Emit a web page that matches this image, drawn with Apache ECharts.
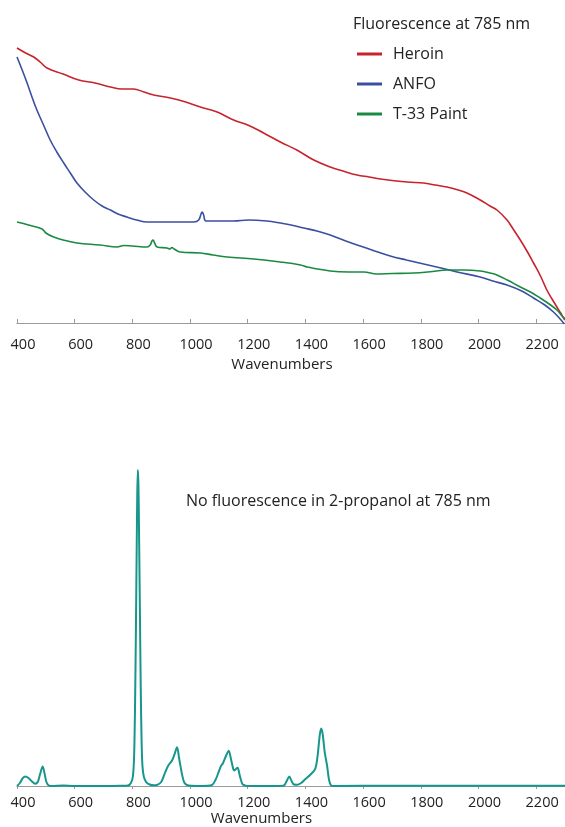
<!DOCTYPE html>
<html>
<head>
<meta charset="utf-8">
<title>Fluorescence at 785 nm</title>
<script src="https://cdn.jsdelivr.net/npm/echarts@6/dist/echarts.min.js"></script>
<style>
  html, body { margin: 0; padding: 0; background: #fff; }
  #main { width: 565px; height: 827px; }
</style>
</head>
<body>
<div id="main"></div>
<script>
// x axis ticks (wavenumbers)
var tickValues = [400, 600, 800, 1000, 1200, 1400, 1600, 1800, 2000, 2200];

// top panel: fluorescence backgrounds, [wavenumber, intensity]
var heroin = [
  [400, 275], [430, 270], [458, 266], [480, 261], [504, 255], [560, 249], [614, 243], [670, 240],
  [724, 236], [764, 234], [804, 234], [840, 231], [874, 228], [932, 225], [985, 221], [1036, 216],
  [1094, 211], [1151, 203], [1200, 198], [1255, 190], [1313, 181], [1370, 173], [1429, 163],
  [1486, 156], [1530, 152], [1579, 148], [1620, 146], [1660, 144], [1752, 141], [1810, 140],
  [1850, 138], [1891, 136], [1930, 133], [1960, 130], [2006, 123], [2040, 117], [2064, 113],
  [2099, 103], [2120, 94], [2145, 83], [2170, 71], [2191, 60], [2215, 47], [2237, 33],
  [2255, 24], [2272, 16], [2285, 10], [2295, 5], [2300, 3]
];
var anfo = [
  [400, 266], [418, 253], [435, 240], [452, 226], [469, 213], [492, 198], [515, 183], [538, 171],
  [562, 160], [585, 150], [608, 140], [636, 131], [666, 123], [695, 117], [724, 113], [750, 109],
  [781, 106], [815, 103], [851, 101], [920, 101], [980, 101], [1013, 101], [1030, 103],
  [1038, 109], [1042, 111], [1047, 108], [1055, 102], [1100, 102], [1151, 102], [1203, 103],
  [1266, 102], [1313, 100], [1350, 98], [1394, 95], [1440, 92], [1486, 88], [1540, 82],
  [1590, 77], [1640, 72], [1694, 67], [1750, 63], [1810, 59], [1870, 55], [1926, 51],
  [2006, 46], [2050, 42], [2099, 38], [2150, 32], [2191, 25], [2230, 18], [2260, 11],
  [2280, 5], [2298, -1]
];
var paint = [
  [400, 101], [440, 98], [487, 94], [500, 90], [527, 86], [560, 83], [608, 80], [689, 78],
  [747, 76], [770, 77.5], [800, 77], [851, 76], [862, 78], [868, 82], [872, 83], [877, 80],
  [886, 76], [920, 75], [930, 74], [937, 75.5], [945, 74], [966, 71], [1036, 70], [1080, 68],
  [1128, 66], [1221, 64], [1313, 61], [1383, 58], [1406, 56], [1486, 52], [1550, 51],
  [1602, 51], [1648, 49], [1700, 49.5], [1775, 50], [1840, 51.5], [1891, 53], [1950, 53],
  [2006, 52], [2040, 50], [2064, 48], [2100, 43], [2145, 36], [2180, 31], [2214, 25],
  [2245, 19], [2272, 13], [2290, 7], [2300, 4]
];

// bottom panel: 2-propanol raman spectrum
var propanol = [
  [400, 0], [410, 3], [420, 8], [429, 9.7], [440, 8], [452, 4.5], [463, 2.3], [472, 4],
  [480, 12], [489, 19.7], [496, 12], [502, 4], [510, 0.5], [520, 0], [560, 0.4], [600, 0],
  [700, 0], [760, 0.2], [785, 0.5], [795, 3], [802, 10], [806, 30], [809, 75], [812, 150],
  [815, 240], [817, 295], [819, 319], [821, 305], [823, 260], [826, 180], [829, 100],
  [832, 45], [835, 20], [840, 9], [848, 4], [860, 1.5], [875, 0.7], [885, 1], [900, 4],
  [914, 14], [925, 21], [938, 26], [946, 32], [955, 39], [962, 28], [972, 12], [978, 5],
  [984, 2], [995, 0.5], [1040, 0], [1076, 1], [1088, 6], [1099, 14], [1107, 20], [1114, 23],
  [1124, 30], [1134, 35.7], [1142, 27], [1150, 17], [1154, 15.7], [1160, 17.5], [1165, 18.3],
  [1172, 11], [1180, 3], [1186, 1], [1200, 0], [1300, 0], [1320, 0.3], [1327, 0.8],
  [1335, 5], [1344, 9.7], [1352, 5], [1360, 1.5], [1371, 1.3], [1385, 3], [1400, 7],
  [1417, 11.3], [1434, 17.3], [1442, 30], [1450, 52], [1455, 58], [1460, 52], [1467, 34],
  [1475, 20.7], [1482, 6], [1489, 0.5], [1500, 0], [1700, 0.3], [2000, 0.2], [2300, 0.3]
];

var font = 'Open Sans';
var myChart = echarts.init(document.getElementById('main'));

function xAxisOf(gridIndex, inside, margin, nameGap, namePad) {
  return {
    type: 'value',
    gridIndex: gridIndex,
    min: 400,
    max: 2300,
    name: 'Wavenumbers',
    nameLocation: 'middle',
    nameGap: nameGap,
    nameTextStyle: { fontFamily: font, fontSize: 15, color: '#222', padding: [0, namePad, 0, 0] },
    axisLine: { show: true, lineStyle: { color: '#9a9a9a', width: 1.2 } },
    axisTick: { show: true, inside: inside, length: inside ? 4 : 3, customValues: tickValues,
      lineStyle: { color: '#9a9a9a' } },
    axisLabel: { customValues: tickValues, margin: margin, fontFamily: font, fontSize: 14.5,
      color: '#222', padding: [0, 0, 0, 12],
      formatter: function (v) { return String(v); } },
    splitLine: { show: false }
  };
}

var option = {
  animation: false,
  title: [
    {
      text: 'Fluorescence at 785 nm',
      left: 353, top: 14, padding: 0,
      textStyle: { fontFamily: font, fontSize: 16, fontWeight: 'normal', color: '#222', lineHeight: 20 }
    },
    {
      text: 'No fluorescence in 2-propanol at 785 nm',
      left: 186, top: 491, padding: 0,
      textStyle: { fontFamily: font, fontSize: 16, fontWeight: 'normal', color: '#222', lineHeight: 20 }
    }
  ],
  legend: {
    orient: 'vertical',
    left: 357, top: 44, padding: 0,
    itemWidth: 25, itemHeight: 3, itemGap: 10,
    icon: 'rect',
    data: ['Heroin', 'ANFO', 'T-33 Paint'],
    textStyle: { fontFamily: font, fontSize: 16, color: '#222', lineHeight: 20, padding: [0, 0, 0, 6] }
  },
  grid: [
    { left: 17, right: 0, top: 23, height: 301 },
    { left: 17, right: 0, top: 469, height: 320 }
  ],
  xAxis: [
    xAxisOf(0, true, 13, 33, 18),
    xAxisOf(1, false, 9, 25, 59)
  ],
  yAxis: [
    { type: 'value', gridIndex: 0, min: -1, max: 300, show: false },
    { type: 'value', gridIndex: 1, min: 0, max: 320, show: false }
  ],
  series: [
    { name: 'Heroin', type: 'line', xAxisIndex: 0, yAxisIndex: 0, data: heroin, showSymbol: false,
      smooth: 0.4, color: '#c8232c', lineStyle: { width: 1.6 } },
    { name: 'ANFO', type: 'line', xAxisIndex: 0, yAxisIndex: 0, data: anfo, showSymbol: false,
      smooth: 0.4, color: '#3a4fa0', lineStyle: { width: 1.6 } },
    { name: 'T-33 Paint', type: 'line', xAxisIndex: 0, yAxisIndex: 0, data: paint, showSymbol: false,
      smooth: 0.4, color: '#1a8a42', lineStyle: { width: 1.6 } },
    { name: '2-propanol', type: 'line', xAxisIndex: 1, yAxisIndex: 1, data: propanol, showSymbol: false,
      smooth: 0.3, color: '#17968c', lineStyle: { width: 2 } }
  ]
};
myChart.setOption(option);
</script>
</body>
</html>
